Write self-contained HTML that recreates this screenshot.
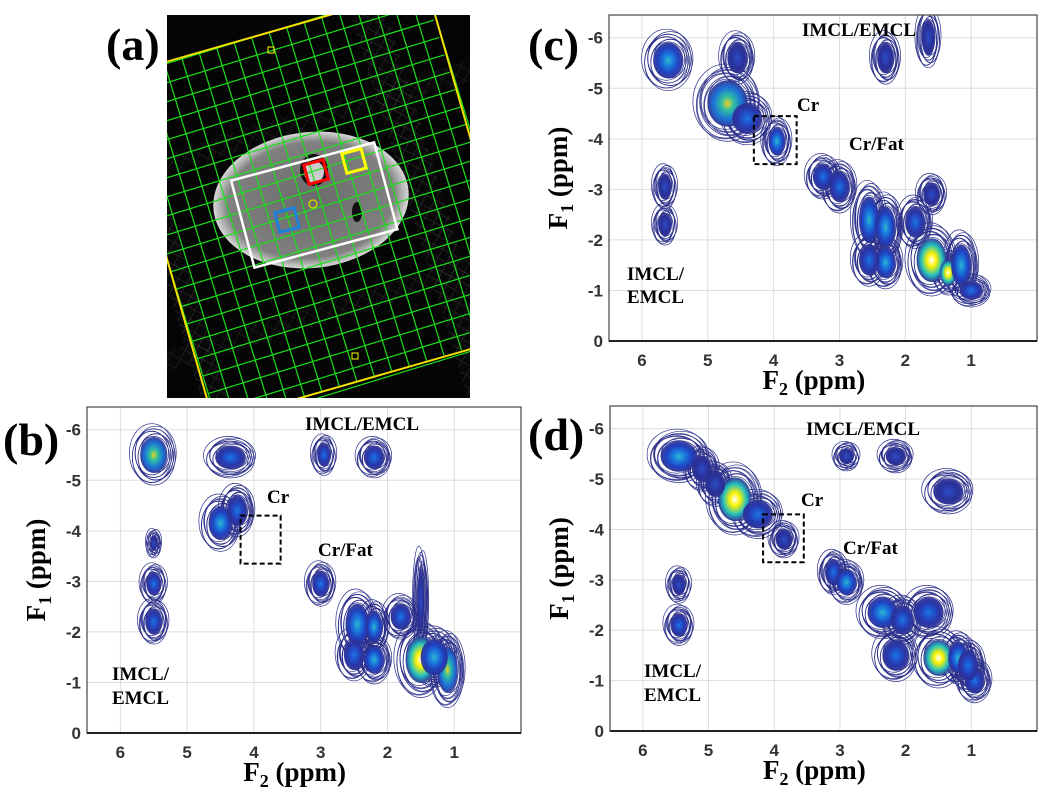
<!DOCTYPE html>
<html><head><meta charset="utf-8">
<style>
body{margin:0;background:#fff;}
svg{position:absolute;left:0;top:0;}
.pl{font-family:"Liberation Serif",serif;font-weight:bold;font-size:46px;}
.ann{font-family:"Liberation Serif",serif;font-weight:bold;font-size:19px;fill:#000;}
.tk{font-family:"Liberation Sans",sans-serif;font-weight:bold;font-size:17px;fill:#333;}
.ax{font-family:"Liberation Serif",serif;font-weight:bold;font-size:27px;fill:#000;}
</style></head>
<body>
<svg id="fig" width="1049" height="791" viewBox="0 0 1049 791">
<defs>
<clipPath id="clipA"><rect x="167" y="15" width="303" height="383"/></clipPath>
<pattern id="hatch" width="10" height="10" patternUnits="userSpaceOnUse" patternTransform="rotate(45)">
<rect width="10" height="10" fill="#0a0a0a"/><line x1="0" y1="0" x2="0" y2="10" stroke="#666" stroke-width="1"/><line x1="0" y1="0" x2="10" y2="0" stroke="#666" stroke-width="1"/></pattern>
<radialGradient id="tissue" cx="50%" cy="50%" r="50%"><stop offset="0" stop-color="#6a6a6a"/><stop offset="0.85" stop-color="#808080"/><stop offset="1" stop-color="#d8d8d8"/></radialGradient>
</defs>
<text class="pl" x="106" y="60">(a)</text>
<text class="pl" x="3" y="455">(b)</text>
<text class="pl" x="528" y="60">(c)</text>
<text class="pl" x="528" y="450">(d)</text>
<g clip-path="url(#clipA)">
<rect x="167" y="15" width="303" height="383" fill="#050505"/>
<g transform="rotate(-17 320 205)">
<rect x="150" y="-60" width="25" height="520" fill="url(#hatch)" opacity="0.5"/>
<rect x="405" y="-60" width="35" height="520" fill="url(#hatch)" opacity="0.5"/>
<rect x="100" y="110" width="460" height="20" fill="url(#hatch)" opacity="0.35"/>
<rect x="100" y="300" width="460" height="20" fill="url(#hatch)" opacity="0.35"/>
</g>
<ellipse cx="311" cy="200" rx="98" ry="68" fill="url(#tissue)" transform="rotate(-6 311 200)"/>
<ellipse cx="314" cy="170" rx="14" ry="16" fill="#111"/>
<ellipse cx="314" cy="172" rx="10" ry="11" fill="#ccc"/>
<ellipse cx="357" cy="212" rx="5" ry="10" fill="#111"/>
<g id="greengrid" transform="rotate(-17 320 205)"></g>
<g transform="rotate(-15 314 204)">
<rect x="240" y="160" width="148" height="90" fill="none" stroke="#fff" stroke-width="2.5"/>
</g>
<rect x="306" y="162" width="20" height="20" fill="none" stroke="#f00" stroke-width="3" transform="rotate(-15 316 172)"/>
<rect x="344" y="151" width="20" height="20" fill="none" stroke="#ff0" stroke-width="3" transform="rotate(-15 354 161)"/>
<rect x="277" y="210" width="20" height="20" fill="none" stroke="#1e7fd8" stroke-width="3" transform="rotate(-15 287 220)"/>
<circle cx="313" cy="204" r="4" fill="none" stroke="#cc0" stroke-width="1.5"/>
<g transform="rotate(-16 320 205)"><rect x="158" y="25" width="325" height="360" fill="none" stroke="#f5e000" stroke-width="2"/></g>
<rect x="268" y="47" width="6" height="6" fill="none" stroke="#ff0"/>
<rect x="352" y="353" width="6" height="6" fill="none" stroke="#ff0"/>
</g>
<g id="pb"></g>
<g id="pc"></g>
<g id="pd"></g>
</svg>
<script>
// Panel b peaks
const bF2=[5.5,5.5,5.5,4.35,4.5,4.25,2.95,2.2,3.0,2.45,2.2,1.8,2.5,2.2,1.5,1.1,1.5,1.3,5.5];
const bF1=[-5.5,-2.95,-2.2,-5.45,-4.15,-4.4,-5.5,-5.45,-2.95,-2.15,-2.1,-2.3,-1.55,-1.45,-1.45,-1.25,-2.6,-1.5,-3.75];
const bW=[0.4,0.22,0.25,0.45,0.35,0.3,0.2,0.3,0.25,0.35,0.25,0.3,0.3,0.3,0.45,0.3,0.1,0.4,0.1];
const bH=[0.7,0.45,0.5,0.45,0.65,0.6,0.45,0.45,0.5,0.8,0.6,0.5,0.6,0.55,0.9,0.9,1.3,0.7,0.3];
const bI=[0.75,0.4,0.45,0.4,0.5,0.45,0.4,0.45,0.45,0.55,0.55,0.45,0.45,0.5,1.0,0.7,0.3,0.5,0.2];
// Panel c peaks
const cF2=[5.6,4.7,4.4,3.95,3.25,3.0,2.55,2.3,1.85,1.6,1.35,1.15,5.65,5.65,2.3,1.65,2.3,1.6,4.55,2.55,1.0];
const cF1=[-5.55,-4.7,-4.4,-3.95,-3.25,-3.05,-2.4,-2.25,-2.35,-1.6,-1.35,-1.5,-2.3,-3.05,-5.6,-6.0,-1.55,-2.9,-5.6,-1.6,-1.0];
const cW=[0.45,0.6,0.45,0.25,0.3,0.3,0.3,0.3,0.3,0.45,0.25,0.3,0.2,0.2,0.25,0.2,0.3,0.25,0.3,0.3,0.35];
const cH=[0.7,0.9,0.6,0.55,0.5,0.6,0.9,0.8,0.6,0.85,0.5,0.8,0.45,0.5,0.6,0.7,0.6,0.45,0.6,0.6,0.35];
const cI=[0.5,0.85,0.45,0.55,0.45,0.45,0.5,0.5,0.4,1.0,0.9,0.55,0.3,0.3,0.3,0.2,0.5,0.35,0.25,0.45,0.45];
// Panel d peaks
const dF2=[5.45,4.6,4.25,3.85,3.1,2.9,2.35,2.05,1.5,1.2,0.95,5.45,5.45,2.9,2.15,1.35,2.15,1.65,5.1,4.9,1.05];
const dF1=[-5.45,-4.6,-4.3,-3.8,-3.15,-2.95,-2.35,-2.2,-1.45,-1.45,-1.0,-2.1,-2.9,-5.45,-5.45,-4.75,-1.5,-2.35,-5.2,-4.9,-1.3];
const dW=[0.55,0.5,0.45,0.25,0.25,0.3,0.45,0.35,0.45,0.3,0.3,0.25,0.2,0.22,0.3,0.45,0.4,0.45,0.3,0.3,0.3];
const dH=[0.6,0.85,0.55,0.4,0.5,0.5,0.6,0.55,0.7,0.6,0.5,0.45,0.4,0.3,0.35,0.5,0.6,0.6,0.5,0.5,0.6];
const dI=[0.55,0.9,0.45,0.35,0.45,0.5,0.55,0.45,0.95,0.6,0.45,0.4,0.3,0.3,0.3,0.3,0.4,0.4,0.3,0.35,0.45];
const xTicks=[6,5,4,3,2,1];
const yTicks=[-6,-5,-4,-3,-2,-1,0];

const NS="http://www.w3.org/2000/svg";
function mk(tag,attrs,parent){const e=document.createElementNS(NS,tag);for(const k in attrs)e.setAttribute(k,attrs[k]);parent.appendChild(e);return e;}

(function(){const g=document.getElementById('greengrid');
for(let i=0;i<=18;i++){mk('line',{x1:158+i*18.2,y1:25,x2:158+i*18.2,y2:385,stroke:'#19e019','stroke-width':1.2},g);}
for(let j=0;j<=20;j++){mk('line',{x1:158,y1:25+j*18.2,x2:483,y2:25+j*18.2,stroke:'#19e019','stroke-width':1.2},g);}})();

let gid=0;
function colorFor(I){
  if(I>=0.9) return ['#ffffff','#fff200','#22c0c0'];
  if(I>=0.7) return ['#f0d020','#30c0a0','#1a70d8'];
  if(I>=0.5) return ['#30b8c8','#1a80e0','#2040c0'];
  if(I>=0.4) return ['#1c78e0','#1e55d0','#2a35a8'];
  return ['#2a50c8','#2a3fb0','#2a2f98'];
}
function plot(id,cfg,F2,F1,W,H,I){
  const g=document.getElementById(id);
  const px=(cfg.x1-cfg.x0)/(cfg.xmax-cfg.xmin), py=(cfg.y1-cfg.y0)/(cfg.ymax-cfg.ymin);
  const sx=v=>cfg.x0+(cfg.xmax-v)*px;
  const sy=v=>cfg.y1-(v-cfg.ymax)/(cfg.ymin-cfg.ymax)*(cfg.y1-cfg.y0);
  const defs=mk('defs',{},g);
  const cp=mk('clipPath',{id:'cp'+id},defs);
  mk('rect',{x:cfg.x0,y:cfg.y0,width:cfg.x1-cfg.x0,height:cfg.y1-cfg.y0},cp);
  mk('rect',{x:cfg.x0,y:cfg.y0,width:cfg.x1-cfg.x0,height:cfg.y1-cfg.y0,fill:'#fff'},g);
  const grid=mk('g',{},g);
  
  
  xTicks.forEach(t=>{
    mk('line',{x1:sx(t),x2:sx(t),y1:cfg.y0,y2:cfg.y1,stroke:'#ddd','stroke-width':1},grid);
    const tx=mk('text',{x:sx(t),y:cfg.y1+25,'text-anchor':'middle',class:'tk'},g);tx.textContent=t;
    
    
  });
  yTicks.forEach(t=>{
    mk('line',{x1:cfg.x0,x2:cfg.x1,y1:sy(t),y2:sy(t),stroke:'#ddd','stroke-width':1},grid);
    const tx=mk('text',{x:cfg.x0-6,y:sy(t)+6,'text-anchor':'end',class:'tk'},g);tx.textContent=t;
    
    
  });
  const pk=mk('g',{'clip-path':'url(#cp'+id+')'},g);
  
  
  const rings=mk('g',{},pk);
  const fills=mk('g',{},pk);
  for(let i=0;i<F2.length;i++){
    const cx=sx(F2[i]),cy=sy(F1[i]);
    const rx=W[i]*px/2, ry=H[i]*py/2;
    const cols=colorFor(I[i]);
    const gradId='gr'+(gid++);
    const rg=mk('radialGradient',{id:gradId},defs);
    mk('stop',{offset:0,'stop-color':cols[0]},rg);
    mk('stop',{offset:0.3,'stop-color':cols[1]},rg);
    mk('stop',{offset:0.7,'stop-color':cols[2]},rg);
    mk('stop',{offset:1,'stop-color':'#2a2f90','stop-opacity':0.9},rg);
    const pg=mk('g',{},rings);
    
    
    for(let k=0;k<9;k++){
      const s=1.6-k*0.07, dx=((k%3)-1)*2, dy=((k%2)?1:-1)*2;
      mk('ellipse',{cx:cx+dx,cy:cy+dy,rx:rx*s+1,ry:ry*s+1,fill:'none',stroke:'#2b2f8a','stroke-width':0.7},pg);
    }
    const f=mk('ellipse',{cx:cx,cy:cy,rx:rx*1.02,ry:ry*1.02,fill:'url(#'+gradId+')'},fills);
    
    
  }
  mk('rect',{x:cfg.x0,y:cfg.y0,width:cfg.x1-cfg.x0,height:cfg.y1-cfg.y0,fill:'none',stroke:'#444','stroke-width':1.2},g);
  mk('line',{x1:cfg.x0,y1:cfg.y1,x2:cfg.x1,y2:cfg.y1,stroke:'#222','stroke-width':2},g);
  const bx=mk('rect',{x:sx(cfg.box[0]),y:sy(cfg.box[2]),width:sx(cfg.box[1])-sx(cfg.box[0]),height:sy(cfg.box[3])-sy(cfg.box[2]),fill:'none',stroke:'#000','stroke-width':2,'stroke-dasharray':'5,3'},g);
  
  
  cfg.ann.forEach(a=>{
    const t=mk('text',{x:a[1],y:a[2],class:'ann'},g);t.textContent=a[0];
    
    
  });
  const xt=mk('text',{x:sx(3.45)+4,y:cfg.y1+48,'text-anchor':'middle',class:'ax'},g);
  xt.innerHTML='F<tspan font-size="18" dy="6">2</tspan><tspan dy="-6"> (ppm)</tspan>';
  
  
  const yc=(cfg.y0+cfg.y1)/2, yx=cfg.x0-42;
  const yt=mk('text',{x:yx,y:yc,'text-anchor':'middle',class:'ax',transform:'rotate(-90 '+yx+' '+yc+')'},g);
  yt.innerHTML='F<tspan font-size="18" dy="6">1</tspan><tspan dy="-6"> (ppm)</tspan>';
  
  
}
plot('pb',{x0:87,x1:521,y0:407,y1:733,xmin:0,xmax:6.5,ymin:-6.45,ymax:0,box:[4.2,3.6,-4.3,-3.35],
  ann:[['IMCL/EMCL',305,430],['Cr',267,503],['Cr/Fat',318,556],['IMCL/',112,680],['EMCL',112,704]]},bF2,bF1,bW,bH,bI);
plot('pc',{x0:609,x1:1037,y0:15,y1:341,xmin:0,xmax:6.5,ymin:-6.45,ymax:0,box:[4.3,3.65,-4.45,-3.5],
  ann:[['IMCL/EMCL',802,36],['Cr',797,111],['Cr/Fat',849,150],['IMCL/',627,280],['EMCL',627,303]]},cF2,cF1,cW,cH,cI);
plot('pd',{x0:610,x1:1037,y0:406,y1:731,xmin:0,xmax:6.5,ymin:-6.45,ymax:0,box:[4.17,3.55,-4.3,-3.35],
  ann:[['IMCL/EMCL',806,435],['Cr',801,506],['Cr/Fat',843,554],['IMCL/',644,677],['EMCL',644,701]]},dF2,dF1,dW,dH,dI);
</script>
</body></html>
